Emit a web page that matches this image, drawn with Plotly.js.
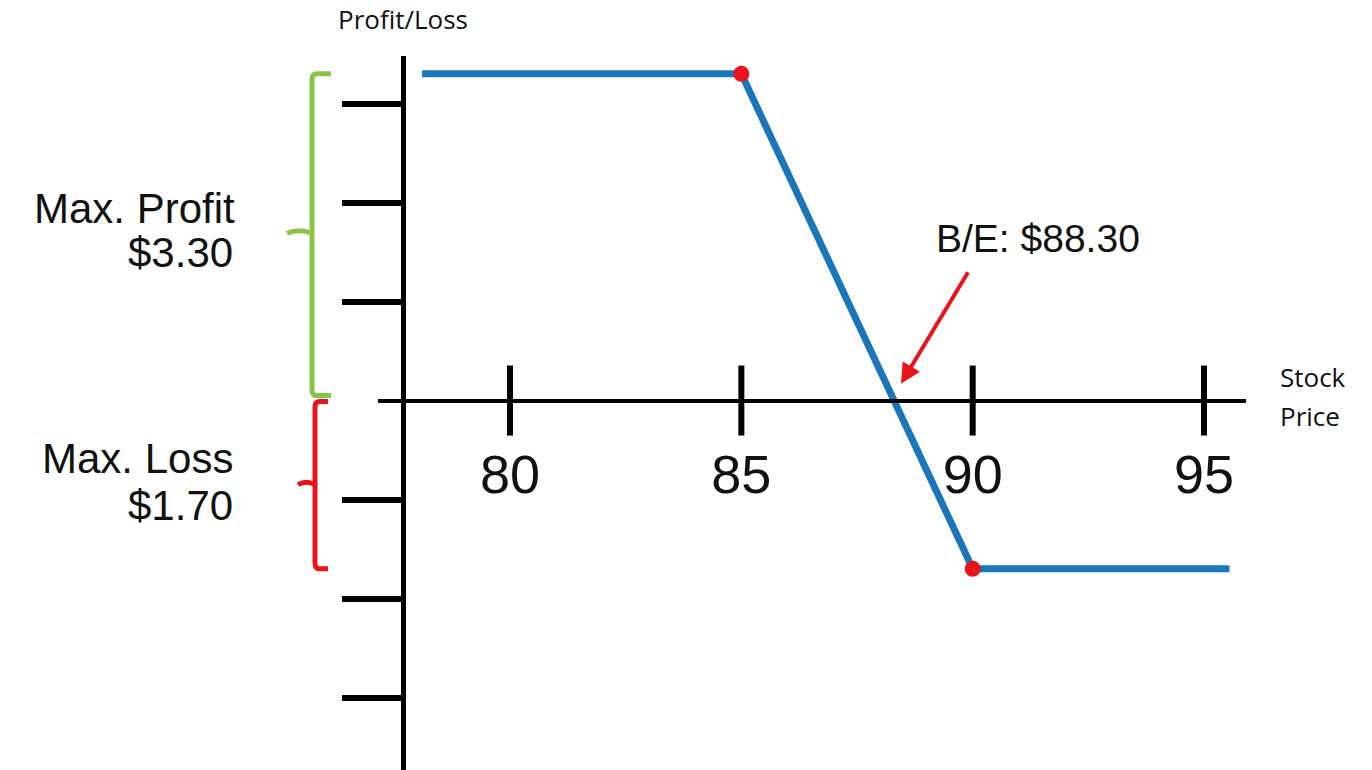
<!DOCTYPE html>
<html>
<head>
<meta charset="utf-8">
<script src="https://cdn.plot.ly/plotly-3.0.1.min.js"></script>
<style>html,body{margin:0;padding:0;background:#fff;}#chart{width:1372px;height:770px;}</style>
</head>
<body>
<div id="chart"></div>
<script>
// ---- data ----
const stockPrice = [78.1, 85, 90, 95.55];
const profitLoss = [3.3, 3.3, -1.7, -1.7];
const strikePrices = [85, 90];
const strikePnL = [3.3, -1.7];
const xTickVals = [80, 85, 90, 95];
const xTickText = ['80', '85', '90', '95'];
const yTickVals = [-3, -2, -1, 1, 2, 3];
const maxProfit = 3.30;
const maxLoss = 1.70;
const breakEven = 88.30;

// ---- layout helpers (pixel -> paper) ----
const W = 1372, H = 770;
const M = {l: 378, r: 126, t: 56, b: 0};
const plotW = W - M.l - M.r, plotH = H - M.t - M.b;
const PX = p => (p - M.l) / plotW;
const PY = p => (H - M.b - p) / plotH;

const xRange = [77.147, 95.907];
const yRange = [-3.732, 3.480];
const xAxisPos = (0 - yRange[0]) / (yRange[1] - yRange[0]);
const yAxisPos = PX(402.5);

const green = '#8bc34a', red = '#e8141b', blue = '#1b75bb';

const traces = [
  { // crossing tick marks on the stock-price axis
    x: xTickVals, y: xTickVals.map(() => 0), type: 'scatter', mode: 'markers',
    marker: {symbol: 'line-ns-open', size: 50, color: '#000', line: {width: 6, color: '#000'}},
    cliponaxis: false, hoverinfo: 'skip', showlegend: false
  },
  {
    x: stockPrice, y: profitLoss, type: 'scatter', mode: 'lines',
    line: {color: blue, width: 7}, cliponaxis: false, showlegend: false
  },
  {
    x: strikePrices, y: strikePnL, type: 'scatter', mode: 'markers',
    marker: {color: red, size: 16}, cliponaxis: false, showlegend: false
  }
];

function brace(xv, xh, xs, top, bot, mid) {
  const c = 0.06;
  return `M ${PX(xh)},${top} L ${PX(xv + 5)},${top} Q ${PX(xv)},${top} ${PX(xv)},${top - c} ` +
         `L ${PX(xv)},${bot + c} Q ${PX(xv)},${bot} ${PX(xv + 5)},${bot} L ${PX(xh)},${bot} ` +
         `M ${PX(xv)},${mid} Q ${PX((xv + xs) / 2)},${mid + 0.05} ${PX(xs)},${mid}`;
}

const shapes = [
  {type: 'path', xref: 'paper', yref: 'y', path: brace(312, 331, 287, maxProfit, 0.05, maxProfit / 2 + 0.04),
   line: {color: green, width: 5}, fillcolor: 'rgba(0,0,0,0)'},
  {type: 'path', xref: 'paper', yref: 'y', path: brace(315, 328, 298, -0.01, -maxLoss, -maxLoss / 2),
   line: {color: red, width: 5}, fillcolor: 'rgba(0,0,0,0)'}
];

const arial = 'Liberation Sans, Arial, sans-serif';
const calib = 'Open Sans, Calibri, sans-serif';
function label(text, x, y, xanchor, size, family) {
  return {text: text, xref: 'paper', yref: 'paper', x: PX(x), y: PY(y), xanchor: xanchor, yanchor: 'middle',
          showarrow: false, font: {family: family, size: size, color: '#111'}};
}

const annotations = [
  label('Profit/Loss', 403, 19, 'center', 26, calib),
  label('Stock', 1278, 377, 'left', 26, calib),
  label('Price', 1278, 416, 'left', 26, calib),
  label('Max. Profit', 237, 208, 'right', 42, arial),
  label('$' + maxProfit.toFixed(2), 235, 252, 'right', 42, arial),
  label('Max. Loss', 235, 458, 'right', 42, arial),
  label('$' + maxLoss.toFixed(2), 235, 505, 'right', 42, arial),
  label('B/E: $' + breakEven.toFixed(2), 1038, 239, 'center', 39, arial),
  {text: '', xref: 'x', yref: 'y', x: 88.45, y: 0.17, ax: 68, ay: -113, showarrow: true,
   arrowcolor: red, arrowwidth: 4, arrowhead: 2, arrowsize: 1}
];

const layout = {
  width: W, height: H, margin: M,
  paper_bgcolor: '#fff', plot_bgcolor: '#fff', showlegend: false,
  xaxis: {range: xRange, anchor: 'free', position: xAxisPos, showline: true, linewidth: 4, linecolor: '#000',
          showgrid: false, zeroline: false, ticks: '', tickmode: 'array', tickvals: xTickVals, ticktext: xTickText,
          ticklabelstandoff: 26, tickfont: {family: arial, size: 54, color: '#111'}, fixedrange: true},
  yaxis: {range: yRange, anchor: 'free', position: yAxisPos, showline: true, linewidth: 5, linecolor: '#000',
          showgrid: false, zeroline: false, ticks: 'outside', ticklen: 59, tickwidth: 6, tickcolor: '#000',
          tickmode: 'array', tickvals: yTickVals, showticklabels: false, fixedrange: true},
  shapes: shapes,
  annotations: annotations
};

Plotly.newPlot('chart', traces, layout, {staticPlot: true, displayModeBar: false});
</script>
</body>
</html>
